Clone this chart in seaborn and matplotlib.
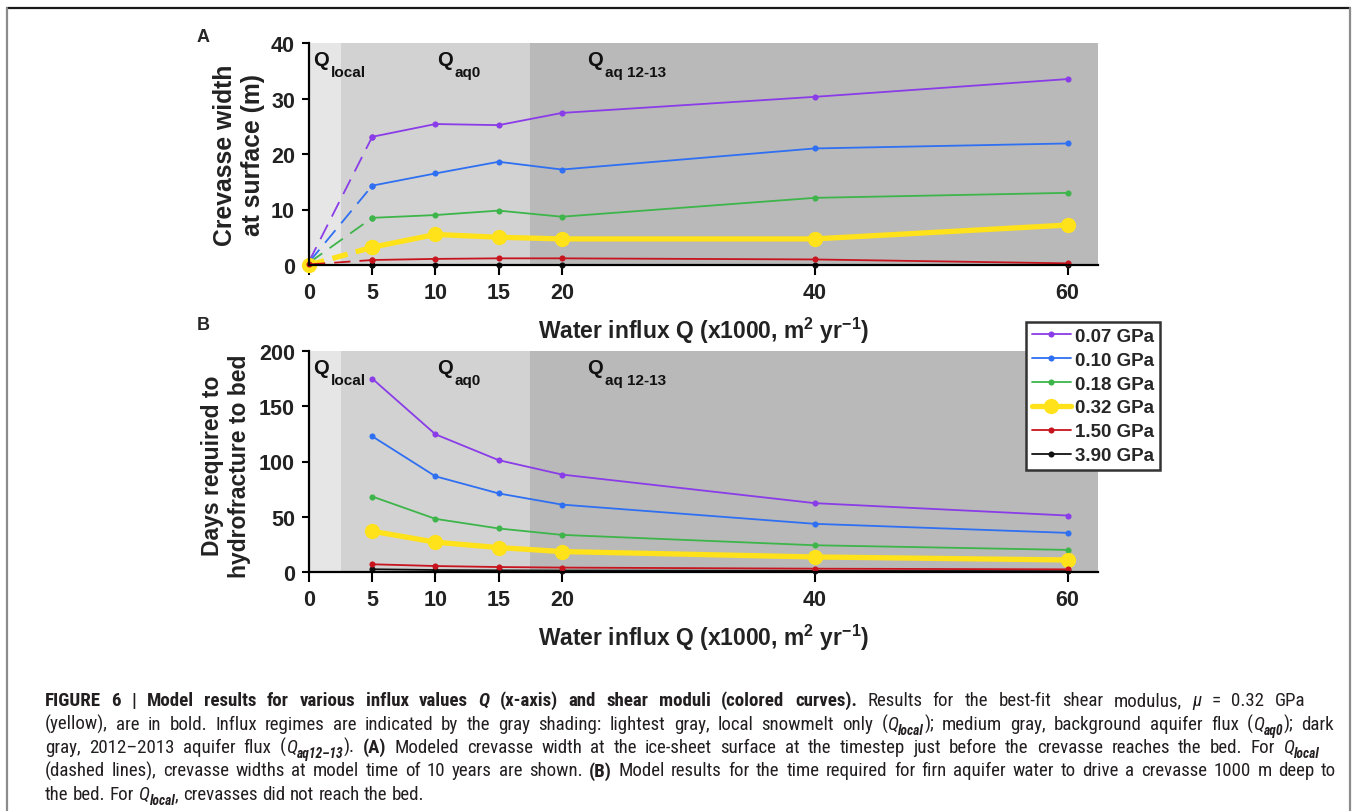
import re
import numpy as np
import pandas as pd
import matplotlib
matplotlib.use("Agg")
import matplotlib.pyplot as plt
import matplotlib.transforms as mtransforms
from matplotlib import font_manager
from matplotlib.lines import Line2D
import seaborn as sns

# ---------------- data ----------------
moduli = ["0.07 GPa", "0.10 GPa", "0.18 GPa", "0.32 GPa", "1.50 GPa", "3.90 GPa"]
colors = ["#8a3ce8", "#2f6ff2", "#3db54a", "#ffe21a", "#c8141e", "#111111"]

q_a = [0, 5, 10, 15, 20, 40, 60]
width_007 = [0.6, 23.1, 25.4, 25.2, 27.4, 30.3, 33.5]
width_010 = [0.5, 14.3, 16.5, 18.6, 17.2, 21.0, 21.9]
width_018 = [0.4, 8.5, 9.0, 9.8, 8.7, 12.1, 13.0]
width_032 = [0.0, 3.2, 5.5, 5.0, 4.7, 4.7, 7.2]
width_150 = [0.1, 0.9, 1.1, 1.2, 1.2, 1.0, 0.3]
width_390 = [0.0, 0.0, 0.0, 0.0, 0.0, 0.0, 0.0]

q_b = [5, 10, 15, 20, 40, 60]
days_007 = [175.0, 124.6, 101.2, 88.2, 62.3, 51.1]
days_010 = [122.8, 86.6, 71.1, 61.0, 43.6, 35.4]
days_018 = [68.3, 48.1, 39.4, 33.6, 24.2, 20.0]
days_032 = [36.9, 27.0, 22.1, 18.5, 13.6, 10.9]
days_150 = [7.0, 5.4, 4.5, 4.0, 3.0, 2.4]
days_390 = [2.5, 1.8, 1.5, 1.3, 1.0, 0.8]

x_ticks = [0, 5, 10, 15, 20, 40, 60]
regimes = [(0, 2.5, "#e6e6e6"), (2.5, 17.5, "#d2d2d2"), (17.5, 62.4, "#b9b9b9")]
regime_labels = [("Q", "local", 0.32), ("Q", "aq0", 10.1), ("Q", "aq 12-13", 22.0)]

widths = [width_007, width_010, width_018, width_032, width_150, width_390]
days = [days_007, days_010, days_018, days_032, days_150, days_390]

rows = []
for m, w in zip(moduli, widths):
    for q, v in zip(q_a, w):
        rows.append(dict(panel="A", modulus=m, Q=q, value=v))
for m, d in zip(moduli, days):
    for q, v in zip(q_b, d):
        rows.append(dict(panel="B", modulus=m, Q=q, value=v))
df = pd.DataFrame(rows)

# ---------------- style ----------------
sns.set_style("ticks")
plt.rcParams["font.family"] = ["Liberation Sans", "DejaVu Sans"]
plt.rcParams["mathtext.fontset"] = "custom"
plt.rcParams["mathtext.bf"] = "Liberation Sans:bold"
plt.rcParams["mathtext.rm"] = "Liberation Sans:bold"
plt.rcParams["mathtext.it"] = "Liberation Sans:bold:italic"
plt.rcParams["mathtext.default"] = "bf"

W, H = 1357, 812
fig = plt.figure(figsize=(W / 100, H / 100), dpi=100)
fig.patch.set_facecolor("white")

def fx(px):
    return px / W

def fy(py):
    return 1 - py / H

axA = fig.add_axes([fx(309), fy(266), (1098 - 309) / W, (266 - 44) / H])
axB = fig.add_axes([fx(309), fy(573), (1098 - 309) / W, (573 - 352) / H])

TICK_FS = 15.5
LAB_FS = 16.5

def style_axis(ax, ymax, yticks):
    for x0, x1, c in regimes:
        ax.axvspan(x0, x1, color=c, lw=0, zorder=0)
    ax.set_xlim(0, 62.4)
    ax.set_ylim(0, ymax)
    ax.set_xticks(x_ticks)
    ax.set_yticks(yticks)
    sns.despine(ax=ax)
    for s in ["left", "bottom"]:
        ax.spines[s].set_linewidth(1.6)
        ax.spines[s].set_color("black")
        ax.spines[s].set_zorder(5)
    ax.tick_params(axis="x", length=7, width=1.5, pad=5, labelsize=TICK_FS, colors="black")
    ax.tick_params(axis="y", length=5, width=1.5, pad=5, labelsize=TICK_FS, colors="black")
    for lab in ax.get_xticklabels() + ax.get_yticklabels():
        lab.set_fontweight("bold")
        lab.set_color("#222222")
    ax.set_facecolor("white")
    ax.set_xlabel("Water influx Q (x1000, m$^{2}$ yr$^{-1}$)", fontsize=LAB_FS,
                  fontweight="bold", labelpad=9, color="#222222")

def series_style(i):
    if i == 3:
        return dict(lw=3.8, ms=11, z=4)
    return dict(lw=1.3, ms=4.4, z=3 if i != 4 else 4.5)

# panel A
style_axis(axA, 40, [0, 10, 20, 30, 40])
for i, m in enumerate(moduli):
    st = series_style(i)
    sub = df[(df.panel == "A") & (df.modulus == m)]
    solid = sub[sub.Q >= 5]
    dashed = sub[sub.Q <= 5]
    dash = (0, (9, 5)) if i != 3 else (0, (3.0, 1.6))
    sns.lineplot(data=dashed, x="Q", y="value", ax=axA, color=colors[i], lw=st["lw"],
                 linestyle=dash, marker="o", ms=st["ms"], mec=colors[i], mew=0,
                 errorbar=None, legend=False, zorder=st["z"], clip_on=False)
    sns.lineplot(data=solid, x="Q", y="value", ax=axA, color=colors[i], lw=st["lw"],
                 marker="o", ms=st["ms"], mec=colors[i], mew=0,
                 errorbar=None, legend=False, zorder=st["z"], clip_on=False)
axA.set_ylabel("")

# panel B
style_axis(axB, 200, [0, 50, 100, 150, 200])
for i, m in enumerate(moduli):
    st = series_style(i)
    sub = df[(df.panel == "B") & (df.modulus == m)]
    sns.lineplot(data=sub, x="Q", y="value", ax=axB, color=colors[i], lw=st["lw"],
                 marker="o", ms=st["ms"], mec=colors[i], mew=0, label=m,
                 errorbar=None, zorder=st["z"], clip_on=False)
axB.set_ylabel("")
handles, labels = axB.get_legend_handles_labels()
if axB.get_legend() is not None:
    axB.get_legend().remove()

# y labels
fig.text(fx(239), fy(155), "Crevasse width\nat surface (m)", rotation=90, ha="center",
         va="center", multialignment="center", fontsize=17.8, fontweight="bold",
         linespacing=1.2, color="#222222")
fig.text(fx(226), fy(466), "Days required to\nhydrofracture to bed", rotation=90,
         ha="center", va="center", multialignment="center", fontsize=LAB_FS,
         fontweight="bold", linespacing=1.25, color="#222222")

# panel letters
fig.text(fx(197), fy(42), "A", fontsize=13, fontweight="bold", va="baseline")
fig.text(fx(197), fy(330), "B", fontsize=13, fontweight="bold", va="baseline")

# regime labels
R = fig.canvas.get_renderer()
for ax in (axA, axB):
    trans = mtransforms.blended_transform_factory(ax.transData, ax.transAxes)
    for big, small, xq in regime_labels:
        t = ax.text(xq, 0.90, big, transform=trans, fontsize=14.5, fontweight="bold",
                    va="baseline", ha="left", zorder=6, color="#111111")
        bb = t.get_window_extent(R)
        wpt = bb.width * 72 / fig.dpi
        ax.annotate(small, xy=(xq, 0.90), xycoords=trans, xytext=(wpt + 1.2, -7.5),
                    textcoords="offset points", fontsize=11, fontweight="bold",
                    va="baseline", ha="left", zorder=6, color="#111111")

# legend
leg = fig.legend(handles, labels, loc="upper left", bbox_to_anchor=(fx(1026), fy(323)),
                 bbox_transform=fig.transFigure, frameon=True, fancybox=False,
                 prop=dict(weight="bold", size=13.5), handlelength=2.1,
                 handletextpad=0.2, labelspacing=0.36, borderpad=0.3, borderaxespad=0,
                 framealpha=1, edgecolor="#333333")
leg.get_frame().set_linewidth(1.8)
leg.set_zorder(10)

# figure frame
fig.add_artist(Line2D([fx(7), fx(1350)], [fy(9), fy(9)], color="#1a1a1a", lw=1.6,
                      transform=fig.transFigure))
for xx in (7, 1350):
    fig.add_artist(Line2D([fx(xx), fx(xx)], [fy(9), fy(812)], color="#8c8c8c", lw=1.6,
                          transform=fig.transFigure))

# caption
names = {f.name for f in font_manager.fontManager.ttflist}
capfam = next((n for n in ["Liberation Sans Narrow", "DejaVu Sans Condensed",
                           "Roboto Condensed", "Open Sans Condensed"] if n in names),
              "Liberation Sans")

caption = [
    [("FIGURE 6 | Model results for various influx values ", "b"), ("Q", "bi"),
     (" (x-axis) and shear moduli (colored curves).", "b"),
     (" Results for the best-fit shear modulus, ", "r"), ("\u03bc", "i"), (" = 0.32 GPa", "r")],
    [("(yellow), are in bold. Influx regimes are indicated by the gray shading: lightest gray, local snowmelt only (", "r"),
     ("Q", "i"), ("local", "isub"), ("); medium gray, background aquifer flux (", "r"),
     ("Q", "i"), ("aq0", "isub"), ("); dark", "r")],
    [("gray, 2012\u20132013 aquifer flux (", "r"), ("Q", "i"), ("aq12\u201313", "isub"), ("). ", "r"),
     ("(A)", "b"), (" Modeled crevasse width at the ice-sheet surface at the timestep just before the crevasse reaches the bed. For ", "r"),
     ("Q", "i"), ("local", "isub")],
    [("(dashed lines), crevasse widths at model time of 10 years are shown. ", "r"), ("(B)", "b"),
     (" Model results for the time required for firn aquifer water to drive a crevasse 1000 m deep to", "r")],
    [("the bed. For ", "r"), ("Q", "i"), ("local", "isub"), (", crevasses did not reach the bed.", "r")],
]
line_ends = [1305, 1334, 1320, 1336, None]

def fprop(kind, size):
    weight = "bold" if "b" in kind else "normal"
    style = "italic" if "i" in kind else "normal"
    s = size * 0.72 if "sub" in kind else size
    return font_manager.FontProperties(family=[capfam, "DejaVu Sans"], weight=weight,
                                       style=style, size=s)

def adv(s, fp):
    w1 = R.get_text_width_height_descent("x" + s + "x", fp, ismath=False)[0]
    w0 = R.get_text_width_height_descent("xx", fp, ismath=False)[0]
    return w1 - w0

def line_width(segs, size):
    return sum(adv(s, fprop(k, size)) for s, k in segs)

base = 12.0
nat = line_width(caption[3], base)
cap_size = min(13.6, base * 1285 / nat)

y0 = 706
for li, segs in enumerate(caption):
    x = 45.0
    yb = y0 + li * 23.5
    nat_w = line_width(segs, cap_size)
    n_sp = sum(s.count(" ") for s, k in segs)
    extra = 0.0
    if line_ends[li] is not None and n_sp:
        extra = max(0.0, (line_ends[li] - 45.0 - nat_w) / n_sp)
    for s, k in segs:
        fp = fprop(k, cap_size)
        sp_w = adv(" ", fp)
        dy = 0.28 * cap_size * 100 / 72 if "sub" in k else 0.0
        for tok in re.split(r"( )", s):
            if tok == "":
                continue
            if tok == " ":
                x += sp_w + extra
                continue
            fig.text(fx(x), fy(yb + dy), tok, fontproperties=fp,
                     va="baseline", ha="left", color="#231f20")
            x += adv(tok, fp)

fig.savefig("out.png", dpi=100, facecolor="white")
